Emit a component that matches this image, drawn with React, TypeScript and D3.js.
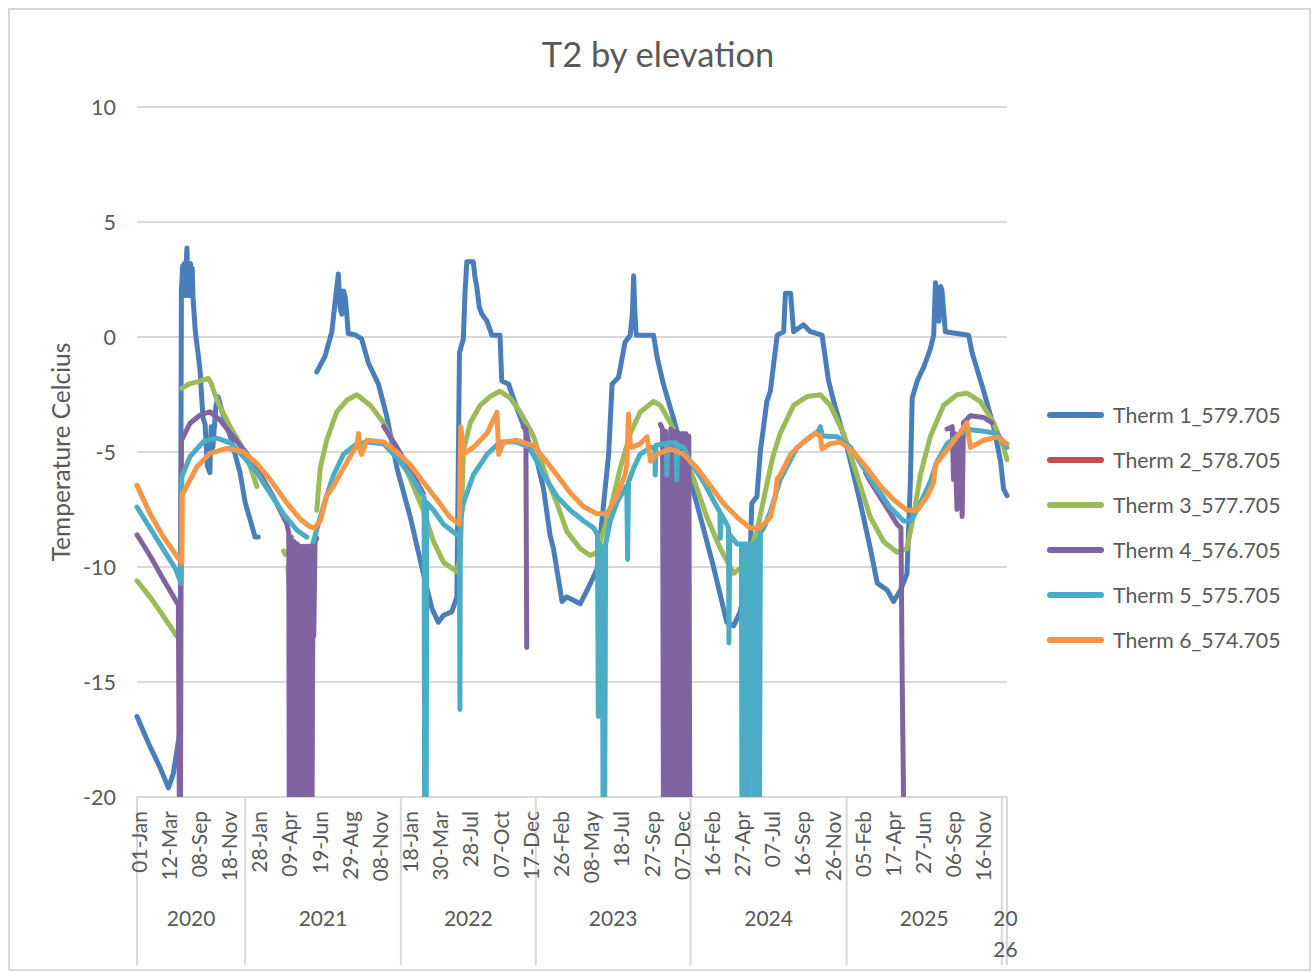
import React from "react";
import * as d3 from "d3";

// category axis: one row per reading, a date label every 70 rows
const dateLabels = [
  "01-Jan", "12-Mar", "08-Sep", "18-Nov",
  "28-Jan", "09-Apr", "19-Jun", "29-Aug", "08-Nov",
  "18-Jan", "30-Mar", "28-Jul", "07-Oct", "17-Dec",
  "26-Feb", "08-May", "18-Jul", "27-Sep", "07-Dec",
  "16-Feb", "27-Apr", "07-Jul", "16-Sep", "26-Nov",
  "05-Feb", "17-Apr", "27-Jun", "06-Sep", "16-Nov",
];
const TICK_STEP = 70;
const LAST_ROW = 2018;
const yearLabels = ["2020", "2021", "2022", "2023", "2024", "2025", "2026"];
const yearBounds = [0, 251, 612, 925, 1284, 1646, 2006, 2018];
const yTicks = [10, 5, 0, -5, -10, -15, -20];

const seriesNames = [
  "Therm 1_579.705",
  "Therm 2_578.705",
  "Therm 3_577.705",
  "Therm 4_576.705",
  "Therm 5_575.705",
  "Therm 6_574.705",
];
const seriesColors = ["#4a7ebb", "#c0504d", "#9bbb59", "#8064a2", "#4bacc6", "#f79646"];

type Pt = [number, number] | null;

// [row, temperature], null = gap in the record
const therm1: Pt[] = [
  [0, -16.5], [30, -17.8], [53, -18.7], [73, -19.6], [84, -19.0], [100, -17.1],
  [103, 2.0], [106, 3.1], [108, 1.8], [110, 3.2], [112, 1.8], [114, 3.2], [116, 3.87],
  [118, 1.8], [120, 3.2], [122, 1.8], [124, 3.2], [126, 1.8], [128, 3.0], [130, 1.7],
  [135, 0.3], [146, -1.4], [153, -3.5],
  [158, -3.8], [163, -5.6], [169, -5.9], [172, -3.9], [176, -4.8], [183, -3.0], [188, -2.6],
  [200, -3.4], [216, -4.3], [239, -5.9], [251, -7.2], [274, -8.7], [281, -8.7], null,
  [417, -1.52], [436, -0.84], [452, 0.23], [459, 1.45], [467, 2.74], [471, 1.3], [475, 0.99],
  [479, 2.0], [483, 1.75], [487, 0.9], [490, 0.15], [505, 0.1], [521, -0.08], [537, -1.14],
  [560, -2.05], [579, -3.42], [603, -5.7], [634, -7.84], [664, -10.27], [684, -11.8],
  [699, -12.4], [711, -12.1], [730, -11.95], [742, -11.3], [748, -0.68], [757, -0.08],
  [761, 2.0], [765, 3.27], [780, 3.27], [784, 2.6], [788, 2.2], [794, 1.3], [800, 1.0],
  [812, 0.68], [823, 0.08], [842, 0.08], [846, -1.9], [862, -2.05], [881, -3.1], [904, -4.2],
  [912, -4.9], [928, -5.4], [943, -6.6], [958, -8.6], [966, -9.2], [986, -11.5], [997, -11.3],
  [1028, -11.6], [1047, -10.9], [1067, -10.1], [1094, -5.1], [1102, -2.05], [1117, -1.75],
  [1132, -0.23], [1144, 0.08], [1149, 1.0], [1152, 2.66], [1155, 1.0], [1158, 0.08],
  [1198, 0.08], [1206, -0.84], [1221, -2.05], [1245, -3.58], [1276, -5.7], [1307, -7.84],
  [1337, -9.97], [1368, -12.4], [1384, -12.56], [1399, -11.95], [1422, -9.67], [1426, -7.23],
  [1438, -6.93], [1446, -4.95], [1461, -2.8], [1469, -2.36], [1485, 0.08], [1500, 0.23],
  [1504, 1.9], [1516, 1.9], [1523, 0.23], [1546, 0.53], [1562, 0.23], [1589, 0.08],
  [1604, -1.9], [1616, -2.8], [1647, -4.8], [1678, -7.23], [1701, -9.2], [1717, -10.7],
  [1740, -11.0], [1755, -11.5], [1771, -11.0], [1786, -10.3], [1794, -6.2], [1798, -2.66],
  [1810, -1.9], [1825, -1.3], [1840, -0.53], [1848, 0.08], [1852, 2.36], [1856, 1.5],
  [1860, 0.68], [1864, 2.2], [1867, 2.05], [1875, 0.23], [1929, 0.08], [1937, -0.68],
  [1964, -2.36], [1987, -3.9], [2003, -5.4], [2010, -6.6], [2018, -6.9],
];

const therm2: Pt[] = [];

const therm3: Pt[] = [
  [0, -10.6], [30, -11.3], [60, -12.1], [92, -13.0], null,
  [104, -2.23], [120, -2.05], [139, -1.95], [165, -1.8], [172, -2.0], [177, -2.3], [189, -2.9],
  [216, -3.9], [247, -4.9], [262, -5.6], [278, -6.5], null,
  [340, -9.3], [344, -9.45], null,
  [350, -10.0], [354, -11.0], null,
  [399, -9.6], [401, -20], [405, -20], [407, -16.3], [409, -9.5], null,
  [417, -7.53], [425, -5.7], [440, -4.49], [463, -3.27], [487, -2.74], [510, -2.51],
  [541, -2.97], [572, -3.73], [603, -4.95], [634, -6.16], [664, -7.53], [688, -8.9],
  [711, -9.8], [742, -10.2], [750, -9.5], [757, -4.95], [773, -3.73], [796, -2.97],
  [819, -2.59], [842, -2.36], [866, -2.66], [889, -3.27], [912, -4.03], [920, -4.34],
  [943, -5.7], [958, -6.5], [974, -7.23], [997, -8.45], [1028, -9.2], [1051, -9.5],
  [1067, -9.36], [1098, -7.5], [1121, -5.7], [1144, -4.2], [1167, -3.27], [1198, -2.8],
  [1214, -2.97], [1237, -3.73], [1260, -4.64], [1291, -6.16], [1322, -7.84], [1353, -9.2],
  [1384, -10.27], [1407, -9.97], [1438, -8.45], [1461, -6.4], [1475, -5.2], [1492, -4.19],
  [1523, -2.97], [1554, -2.59], [1585, -2.51], [1608, -2.97], [1639, -4.19], [1670, -6.0],
  [1701, -7.84], [1732, -8.9], [1763, -9.36], [1786, -9.2], [1802, -7.7], [1817, -6.0],
  [1840, -4.34], [1871, -2.97], [1902, -2.51], [1925, -2.44], [1956, -2.8], [1987, -3.73],
  [2010, -4.8], [2018, -5.33],
];

const therm4: Pt[] = [
  [0, -8.6], [30, -9.5], [60, -10.5], [96, -11.65], [98, -20], [101, -20], [103, -4.5],
  [123, -3.75], [146, -3.4], [169, -3.25], [192, -3.6], [223, -4.33], [254, -5.06],
  [285, -5.93], [316, -6.94], [347, -8.1], [352, -8.5], [353, -20], [356, -20], [358, -8.7],
  [360, -20], [363, -20], [365, -8.9], [367, -20], [370, -20], [372, -9.0], [374, -20],
  [377, -20], [379, -9.1], [381, -20], [385, -20], [387, -9.1], [389, -20], [392, -20],
  [394, -9.1], [396, -20], [399, -20], [401, -9.1], [403, -20], [406, -20], [408, -9.0],
  [410, -13], [413, -8.9], [417, -8.75], null,
  [572, -3.88], [603, -4.8], [634, -5.8], [664, -6.8], null,
  [896, -3.9], [902, -4.0], [904, -13.5], null,
  [1214, -3.8], [1219, -4.0], [1221, -20], [1224, -20], [1226, -4.1], [1229, -20],
  [1232, -20], [1238, -4.0], [1240, -20], [1243, -20], [1245, -4.1], [1247, -20],
  [1250, -20], [1252, -4.1], [1254, -20], [1257, -20], [1259, -4.2], [1261, -20],
  [1264, -20], [1266, -4.2], [1268, -20], [1271, -20], [1273, -4.2], [1275, -20],
  [1278, -20], [1280, -4.3], [1282, -20], [1284, -20], null,
  [1690, -5.9], [1697, -6.16], [1732, -7.2], [1763, -8.14], [1772, -8.3], [1775, -15],
  [1778, -20], null,
  [1879, -4.0], [1891, -3.9], [1894, -6.2], [1897, -4.2], [1902, -7.5], [1904, -4.5],
  [1906, -5.4], [1910, -4.3], [1914, -7.8], [1917, -3.73], [1933, -3.42], [1964, -3.5],
  [1983, -3.73],
];

const therm5: Pt[] = [
  [0, -7.4], [30, -8.3], [60, -9.2], [90, -10.1], [102, -10.7], [104, -6.07], [123, -5.2],
  [154, -4.55], [185, -4.4], [216, -4.6], [247, -5.2], [278, -5.9], [309, -6.8], [340, -7.7],
  [371, -8.4], [394, -8.7], null,
  [409, -8.9], [425, -7.84], [440, -6.9], [456, -6.0], [479, -5.1], [510, -4.64], [533, -4.57],
  [572, -4.64], [603, -5.25], [634, -6.0], [664, -6.93], [666, -7.0], [667, -20], [671, -20],
  [672, -7.2], [688, -7.53], [711, -8.14], [742, -8.6], [748, -8.6], [749, -16.2], [750, -8.0],
  [757, -7.23], [780, -6.0], [812, -5.1], [842, -4.57], [881, -4.57], [912, -4.8], [943, -6.0],
  [974, -6.93], [1005, -7.53], [1036, -8.0], [1059, -8.3], [1068, -8.6], [1070, -16.5],
  [1073, -9.0], [1079, -9.2], [1081, -20], [1085, -20], [1087, -9.0], [1098, -8.0],
  [1113, -7.2], [1136, -6.47], [1138, -9.67], [1140, -6.3], [1152, -5.7], [1167, -5.1],
  [1191, -4.8], [1201, -4.8], [1202, -6.0], [1204, -4.7], [1221, -4.64], [1228, -4.64],
  [1229, -6.0], [1231, -4.6], [1250, -4.6], [1252, -6.2], [1254, -4.7], [1268, -4.8],
  [1283, -5.4], [1314, -6.3], [1345, -7.38], [1352, -7.6], [1353, -8.75], [1355, -7.7],
  [1368, -8.14], [1372, -8.3], [1373, -13.3], [1375, -8.6], [1392, -9.0], [1402, -9.0],
  [1403, -20], [1405, -20], [1407, -9.0], [1413, -9.0], [1415, -20], [1417, -20],
  [1419, -9.0], [1427, -9.0], [1429, -20], [1431, -20], [1433, -9.0], [1440, -8.8],
  [1442, -20], [1444, -20], [1446, -8.5], [1454, -8.3], [1469, -7.6], [1492, -6.2],
  [1531, -4.8], [1562, -4.34], [1580, -4.1], [1585, -3.9], [1590, -4.3], [1624, -4.34],
  [1655, -4.8], [1686, -5.7], [1717, -6.6], [1747, -7.4], [1778, -8.0], [1794, -8.0],
  [1810, -7.5], [1840, -6.3], [1856, -5.4], [1879, -4.64], [1910, -4.19], [1933, -4.03],
  [1964, -4.1], [1995, -4.19], [2018, -4.8],
];

const therm6: Pt[] = [
  [0, -6.45], [30, -7.67], [61, -8.68], [104, -9.84], [105, -6.85], [139, -5.64], [169, -5.06],
  [208, -4.84], [247, -4.99], [278, -5.5], [309, -6.2], [347, -7.2], [378, -7.9], [401, -8.25],
  [412, -8.3], [425, -8.0], [440, -6.9], [456, -6.47], [479, -5.7], [502, -4.95], [510, -4.7],
  [514, -4.2], [517, -4.9], [521, -5.1], [533, -4.49], [572, -4.57], [603, -5.0], [634, -5.56],
  [664, -6.3], [696, -7.08], [726, -7.84], [748, -8.14], [751, -3.9], [753, -4.2], [757, -5.1],
  [780, -4.8], [812, -4.19], [835, -3.27], [839, -5.1], [850, -4.57], [881, -4.49],
  [920, -4.72], [943, -5.25], [974, -6.0], [1005, -6.77], [1036, -7.38], [1067, -7.69],
  [1090, -7.69], [1113, -6.93], [1132, -6.0], [1136, -5.6], [1140, -3.35], [1144, -4.6],
  [1148, -4.8], [1167, -4.64], [1183, -4.34], [1191, -5.4], [1206, -5.1], [1237, -4.87],
  [1268, -5.1], [1299, -5.7], [1330, -6.47], [1360, -7.23], [1392, -7.84], [1422, -8.3],
  [1446, -8.3], [1469, -7.84], [1480, -7.0], [1485, -6.16], [1492, -6.0], [1516, -5.1],
  [1546, -4.57], [1573, -4.19], [1585, -4.3], [1589, -4.87], [1608, -4.64], [1631, -4.57],
  [1662, -5.0], [1693, -5.7], [1724, -6.47], [1755, -7.08], [1786, -7.53], [1810, -7.53],
  [1833, -6.93], [1848, -6.3], [1852, -5.56], [1871, -5.1], [1902, -4.34], [1925, -3.73],
  [1933, -4.8], [1964, -4.49], [1995, -4.34], [2018, -4.64],
];

const seriesData = [therm1, therm2, therm3, therm4, therm5, therm6];

const W = 1314;
const H = 973;
const margin = { left: 137, right: 1007, top: 107, bottom: 797 };
const FONT = "Lato, 'Open Sans', sans-serif";
const TEXT = "#595959";
const GRID = "#d9d9d9";

export default function App() {
  const x = d3.scaleLinear().domain([0, LAST_ROW]).range([margin.left, margin.right]);
  const y = d3.scaleLinear().domain([-20, 10]).range([margin.bottom, margin.top]);

  const line = d3
    .line<Pt>()
    .defined((d) => d !== null)
    .x((d) => x((d as [number, number])[0]))
    .y((d) => y((d as [number, number])[1]));

  return (
    <svg
      width={W}
      height={H}
      style={{ position: "absolute", left: 0, top: 0, background: "#fff" }}
      fontFamily={FONT}
    >
      <defs>
        <clipPath id="plot">
          <rect x={margin.left - 6} y={margin.top - 10} width={margin.right - margin.left + 12} height={margin.bottom - margin.top + 10} />
        </clipPath>
      </defs>
      <rect x={9} y={9} width={1301} height={961} fill="#fff" stroke={GRID} strokeWidth={2} />

      <text x={658} y={53} textAnchor="middle" dominantBaseline="central" fontSize={34.5} fill={TEXT}>
        T2 by elevation
      </text>

      {/* gridlines + y ticks */}
      {yTicks.map((t) => (
        <g key={t}>
          <line x1={margin.left} x2={margin.right} y1={y(t)} y2={y(t)} stroke={GRID} strokeWidth={2} />
          <text x={116} y={y(t)} textAnchor="end" dominantBaseline="central" fontSize={21.5} fill={TEXT}>
            {t}
          </text>
        </g>
      ))}

      <text
        transform={`translate(60,${(margin.top + margin.bottom) / 2}) rotate(-90)`}
        textAnchor="middle"
        dominantBaseline="central"
        fontSize={24.5}
        fill={TEXT}
      >
        Temperature Celcius
      </text>

      {/* category axis */}
      {yearBounds.map((b, i) => (
        <line key={i} x1={x(b)} x2={x(b)} y1={margin.bottom} y2={965} stroke={GRID} strokeWidth={2} />
      ))}
      {dateLabels.map((lab, i) => (
        <text
          key={lab + i}
          transform={`translate(${x(i * TICK_STEP) + 1},811) rotate(-90)`}
          textAnchor="end"
          dominantBaseline="central"
          fontSize={21}
          fill={TEXT}
        >
          {lab}
        </text>
      ))}
      {yearLabels.map((yr, i) => {
        const cx = (x(yearBounds[i]) + x(yearBounds[i + 1])) / 2;
        if (i === yearLabels.length - 1) {
          return (
            <text key={yr} x={cx + 1} textAnchor="middle" fontSize={21} fill={TEXT}>
              <tspan x={cx + 1} y={917} dominantBaseline="central">{yr.slice(0, 2)}</tspan>
              <tspan x={cx + 1} y={948} dominantBaseline="central">{yr.slice(2)}</tspan>
            </text>
          );
        }
        return (
          <text key={yr} x={cx} y={917} textAnchor="middle" dominantBaseline="central" fontSize={21} fill={TEXT}>
            {yr}
          </text>
        );
      })}

      {/* series */}
      <g clipPath="url(#plot)">
        {seriesData.map((data, i) => (
          <path
            key={seriesNames[i]}
            d={line(data) || ""}
            fill="none"
            stroke={seriesColors[i]}
            strokeWidth={5}
            strokeLinejoin="round"
            strokeLinecap="round"
          />
        ))}
      </g>

      {/* legend */}
      {seriesNames.map((name, i) => {
        const ly = 415 + i * 45;
        return (
          <g key={name}>
            <line x1={1050} x2={1101} y1={ly} y2={ly} stroke={seriesColors[i]} strokeWidth={6} strokeLinecap="round" />
            <text x={1113} y={ly} dominantBaseline="central" fontSize={21.3} fill={TEXT}>
              {name}
            </text>
          </g>
        );
      })}
    </svg>
  );
}
